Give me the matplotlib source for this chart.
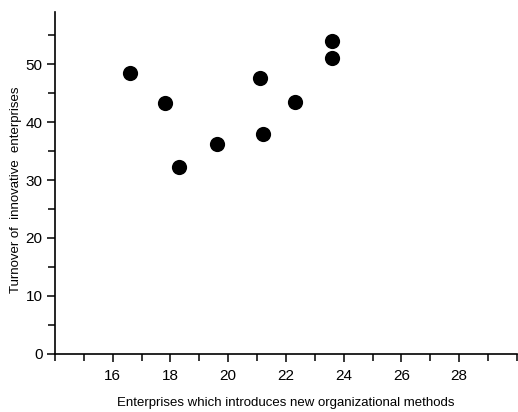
import matplotlib
matplotlib.use("Agg")
import matplotlib.pyplot as plt
from matplotlib.ticker import MultipleLocator

# Datos
org_methods = [16.6, 17.8, 18.3, 19.6, 21.1, 21.2, 22.3, 23.6, 23.6]
turnover = [48.4, 43.3, 32.3, 36.2, 47.6, 37.9, 43.4, 54.0, 51.0]

plt.rcParams['font.family'] = ['Liberation Sans', 'DejaVu Sans']

fig = plt.figure(figsize=(5.18, 4.12), dpi=100)
ax = fig.add_axes([0.106, 0.141, 0.892, 0.830])

ax.scatter(org_methods, turnover, s=120, color='black', zorder=3, linewidths=0)

ax.set_xlim(14, 30)
ax.set_ylim(0, 59)
ax.xaxis.set_major_locator(MultipleLocator(2))
ax.xaxis.set_minor_locator(MultipleLocator(1))
ax.yaxis.set_major_locator(MultipleLocator(10))
ax.yaxis.set_minor_locator(MultipleLocator(5))
ax.set_xticks([16, 18, 20, 22, 24, 26, 28])

ax.spines['top'].set_visible(False)
ax.spines['right'].set_visible(False)
for s in ['left', 'bottom']:
    ax.spines[s].set_linewidth(1.2)

ax.tick_params(which='major', direction='out', length=6, width=1.1, labelsize=11)
ax.tick_params(which='minor', direction='out', length=5, width=1.1)
ax.tick_params(axis='x', which='major', pad=5)
ax.tick_params(axis='y', which='major', pad=3)

ax.set_xlabel('Enterprises which introduces new organizational methods', fontsize=9.5, labelpad=10)
ax.set_ylabel('Turnover of  innovative  enterprises', fontsize=9.5)
ax.yaxis.set_label_coords(-0.072, 0.48)

fig.savefig('out.png', dpi=100)
